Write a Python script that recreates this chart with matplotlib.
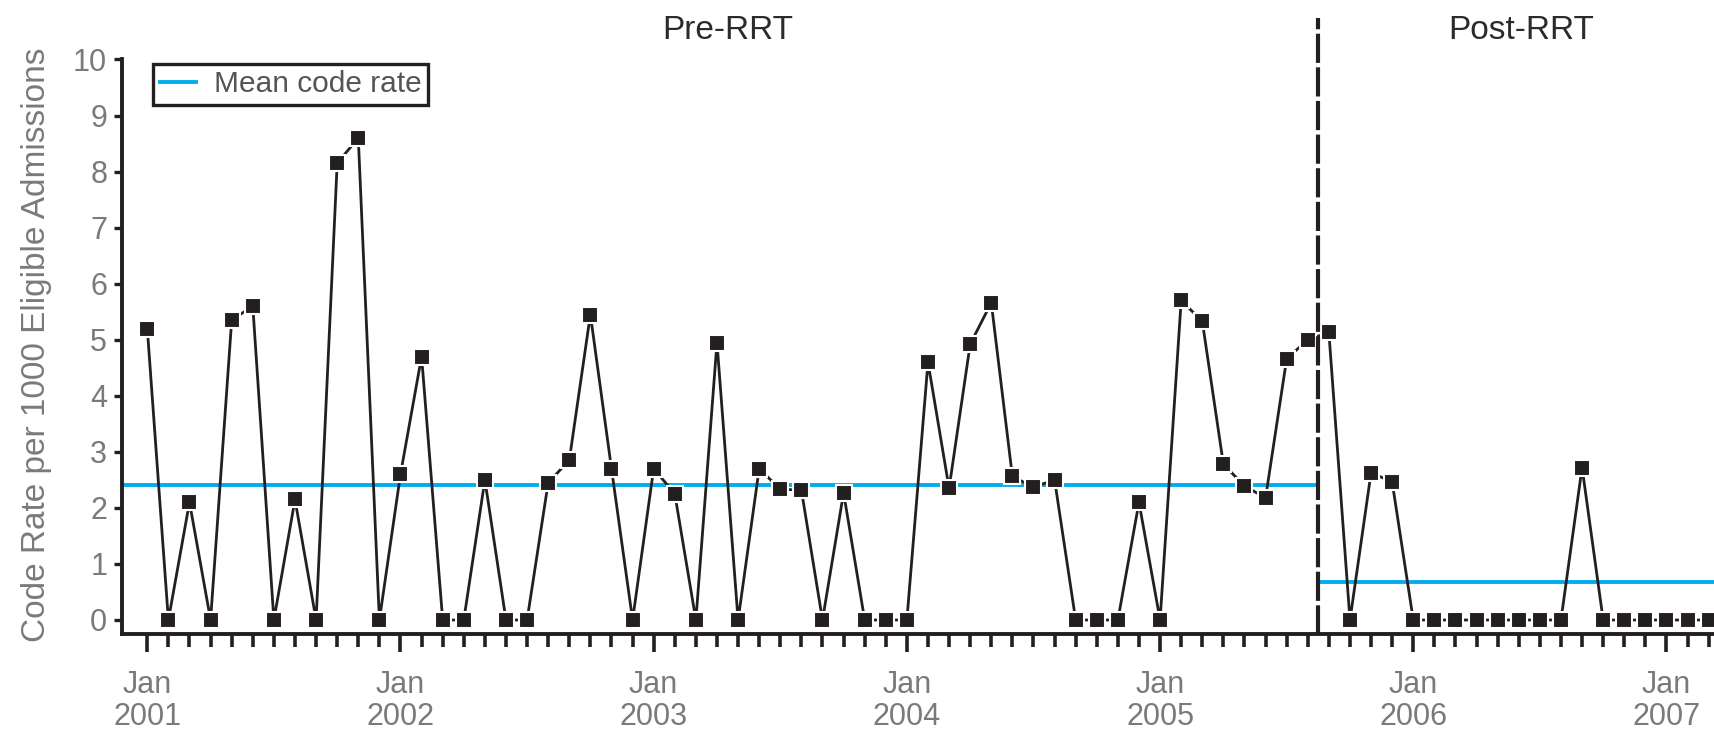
import matplotlib
matplotlib.use("Agg")
import matplotlib.pyplot as plt
from matplotlib.lines import Line2D
import numpy as np

# monthly code rates, Jan 2001 - Aug 2005 (pre) and Sep 2005 - Mar 2007 (post)
pre_rates = [5.2, 0, 2.1, 0, 5.35, 5.6, 0, 2.15, 0, 8.15, 8.6, 0,
             2.6, 4.7, 0, 0, 2.5, 0, 0, 2.45, 2.85, 5.45, 2.7, 0,
             2.7, 2.25, 0, 4.95, 0, 2.7, 2.33, 2.32, 0, 2.27, 0, 0,
             0, 4.6, 2.35, 4.92, 5.66, 2.56, 2.37, 2.5, 0, 0, 0, 2.1,
             0, 5.7, 5.33, 2.78, 2.39, 2.18, 4.66, 5.0]
post_rates = [5.13, 0, 2.63, 2.46, 0, 0, 0, 0, 0, 0, 0, 0,
              2.72, 0, 0, 0, 0, 0, 0]
year_labels = ["Jan\n2001", "Jan\n2002", "Jan\n2003", "Jan\n2004",
               "Jan\n2005", "Jan\n2006", "Jan\n2007"]

plt.rcParams['font.family'] = ['Liberation Sans', 'DejaVu Sans']

black = "#231f20"
cyan = "#00aeef"
grey = "#7a7a7a"

n_pre = len(pre_rates)
rates = np.array(pre_rates + post_rates)
months = np.arange(len(rates))
split = n_pre - 0.5
pre_mean = np.mean(pre_rates)
post_mean = np.mean(post_rates)

xlo, xhi = -1.21, 74.3
ylo, yhi = -0.25, 10.735

fig = plt.figure(figsize=(17.15, 7.31), dpi=100)
ax = fig.add_axes([0.071, 0.1327, 0.929, 0.8423])

ax.hlines(pre_mean, xlo, split, color=cyan, lw=2.8, zorder=2)
ax.hlines(post_mean, split, xhi, color=cyan, lw=2.8, zorder=2)
# dash pattern is scaled by the line width (3.0)
ax.plot([split, split], [yhi, ylo], color=black, lw=3.0,
        linestyle=(4.3, (7, 1.07)), zorder=4, clip_on=False)
ax.plot(months, rates, color=black, lw=2.0, marker='s', ms=11.5,
        mfc=black, mec='white', mew=1.5, zorder=3)

ax.text(27.5, 10.51, "Pre-RRT", ha='center', va='center', fontsize=24, color="#2b2b2b")
ax.text(65.1, 10.51, "Post-RRT", ha='center', va='center', fontsize=24, color="#2b2b2b")

ax.set_xlim(xlo, xhi)
ax.set_ylim(ylo, yhi)
for s in ['top', 'right']:
    ax.spines[s].set_visible(False)
ax.spines['left'].set_bounds(ylo, 10)
for s in ['left', 'bottom']:
    ax.spines[s].set_linewidth(2.8)
    ax.spines[s].set_color(black)

ax.set_yticks(range(11))
ax.set_xticks(np.arange(0, 73, 12))
ax.set_xticks(months, minor=True)
ax.set_xticklabels(year_labels, linespacing=1.1)
ax.tick_params(axis='y', length=6, width=2.4, pad=4.5, labelsize=22,
               labelcolor=grey, color=black)
ax.tick_params(axis='x', which='major', length=13, width=2.6, pad=13,
               labelsize=22, labelcolor=grey, color=black)
ax.tick_params(axis='x', which='minor', length=9, width=2.6, color=black)

ax.set_ylabel("Code Rate per 1000 Eligible Admissions", fontsize=24, color=grey)
ax.yaxis.set_label_coords(-0.0437, 0.4694)

handle = Line2D([], [], color=cyan, lw=2.8)
leg = ax.legend([handle], ["Mean code rate"], loc='upper left',
                bbox_to_anchor=(0.0198, 0.926), borderaxespad=0,
                fontsize=21.5, handlelength=1.2, handletextpad=0.6,
                borderpad=0.22, fancybox=False, framealpha=1)
leg.get_frame().set_edgecolor(black)
leg.get_frame().set_linewidth(2.4)
for t in leg.get_texts():
    t.set_color("#555555")

fig.savefig("out.png", dpi=100)
